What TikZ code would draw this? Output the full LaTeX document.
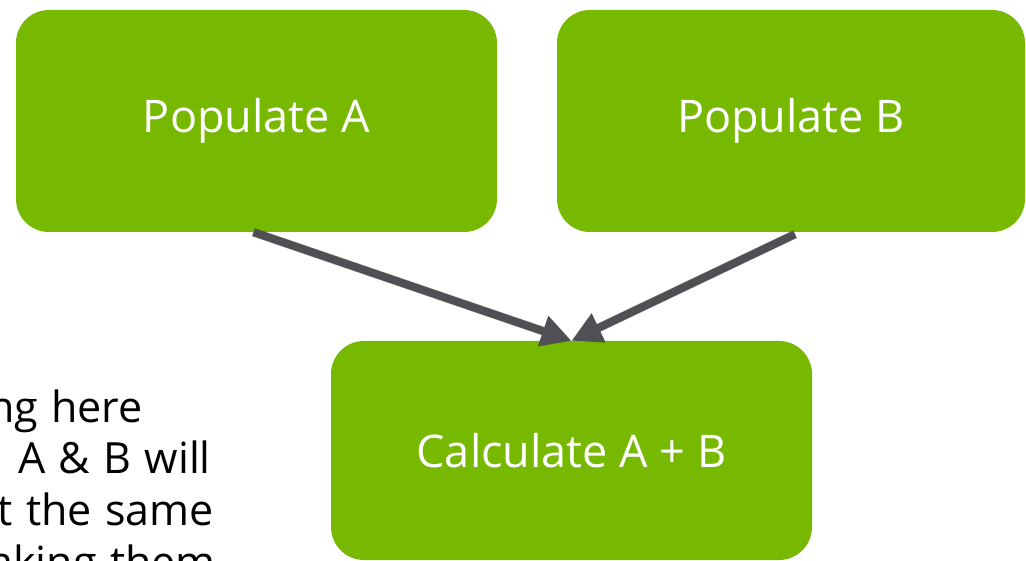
\documentclass[tikz,border=0pt]{standalone}
\usepackage{fontspec}
\setmainfont{Open Sans}
\newfontfamily\sidefont{Open Sans}[WordSpace=1.2]
\usetikzlibrary{arrows.meta}
\definecolor{nvgreen}{RGB}{118,185,0}
\definecolor{arrgray}{RGB}{80,80,84}
\begin{document}
\begin{tikzpicture}[x=1pt,y=-1pt,
  box/.style={fill=nvgreen, rounded corners=33pt, inner sep=0pt, text=white,
    font=\fontsize{45}{50}\selectfont},
  conn/.style={draw=arrgray, line width=8pt, -{Triangle[length=30pt,width=30pt]}},
  connshadow/.style={draw=black, opacity=0.18, line width=9pt, -{Triangle[length=30pt,width=30pt]}},
  side/.style={font=\sidefont\fontsize{43}{46}\selectfont, anchor=base east, inner sep=0pt, text=black}]
\useasboundingbox (0,0) rectangle (1026,561);
\clip (0,0) rectangle (1026,561);
\node[box, minimum width=481pt, minimum height=222pt] (a) at (256.5,121) {Populate A};
\node[box, minimum width=468pt, minimum height=222pt] (b) at (791,121) {Populate B};
\node[box, minimum width=481pt, minimum height=219pt] (c) at (571.5,450.5) {Calculate A + B};
\coordinate (as) at ([xshift=-3pt]a.south);
\coordinate (bs) at ([xshift=4pt,yshift=-2pt]b.south);
\coordinate (cn) at (c.north);
\begin{scope}[shift={(3,4)}]
\draw[connshadow] (as) -- (cn);
\draw[connshadow] (bs) -- (cn);
\end{scope}
\draw[conn] (as) -- (cn);
\draw[conn] (bs) -- (cn);
\node[side] (l1) at (143,422) {ng here};
\node[side] (l2) at (211,473) {A \& B will};
\node[side] (l3) at (214,525) {t the same};
\node[side] (l4) at (216,577) {aking them};
\end{tikzpicture}
\end{document}
